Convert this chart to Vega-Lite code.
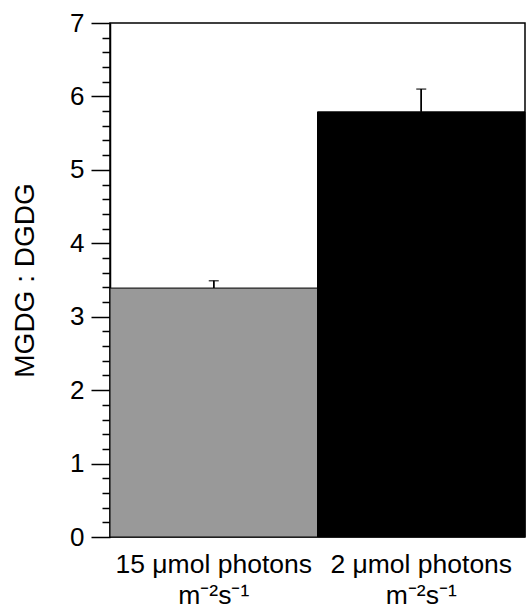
{
  "$schema": "https://vega.github.io/schema/vega-lite/v6.json",
  "autosize": "none",
  "width": 415,
  "height": 514,
  "padding": {"left": 110, "top": 23, "right": 1, "bottom": 74},
  "background": "white",
  "config": {
    "font": "Liberation Sans",
    "view": {"stroke": "black", "strokeWidth": 1.5},
    "axis": {"grid": false, "labelColor": "black", "titleColor": "black", "domainColor": "black", "tickColor": "black", "labelFont": "Liberation Sans", "titleFont": "Liberation Sans"}
  },
  "data": {
    "values": [
      {"condition": "15 μmol photons|m⁻²s⁻¹", "light": "high", "value": 3.39, "upper": 3.49},
      {"condition": "2 μmol photons|m⁻²s⁻¹", "light": "low", "value": 5.79, "upper": 6.1}
    ]
  },
  "encoding": {
    "x": {
      "field": "condition",
      "type": "nominal",
      "sort": null,
      "scale": {"paddingInner": 0, "paddingOuter": 0},
      "axis": {
        "title": null,
        "labelAngle": 0,
        "domain": false,
        "ticks": false,
        "labelFontSize": 26.5,
        "labelLimit": 0,
        "labelPadding": 14,
        "labelLineHeight": 31,
        "labelExpr": "split(datum.label, '|')"
      }
    }
  },
  "layer": [
    {
      "mark": {"type": "rule", "color": "black", "strokeWidth": 1.5},
      "encoding": {
        "y": {
          "field": "value",
          "type": "quantitative",
          "scale": {"domain": [0, 7], "nice": false},
          "axis": {
            "orient": "left",
            "values": [0.2, 0.4, 0.6, 0.8, 1.2, 1.4, 1.6, 1.8, 2.2, 2.4, 2.6, 2.8, 3.2, 3.4, 3.6, 3.8, 4.2, 4.4, 4.6, 4.8, 5.2, 5.4, 5.6, 5.8, 6.2, 6.4, 6.6, 6.8],
            "labels": false,
            "domain": false,
            "ticks": true,
            "tickSize": 8,
            "tickWidth": 1.5,
            "title": null
          }
        },
        "y2": {"field": "upper"}
      }
    },
    {
      "mark": {"type": "bar", "stroke": "black", "strokeWidth": 1},
      "encoding": {
        "y": {
          "field": "value",
          "type": "quantitative",
          "axis": {
            "orient": "left",
            "values": [0, 1, 2, 3, 4, 5, 6, 7],
            "ticks": true,
            "tickSize": 19,
            "tickWidth": 1.5,
            "domainWidth": 1.5,
            "labelFontSize": 26,
            "labelPadding": 7,
            "title": "MGDG : DGDG",
            "titleFontSize": 28,
            "titleFontWeight": "normal",
            "titlePadding": 30
          }
        },
        "color": {
          "field": "light",
          "type": "nominal",
          "scale": {"domain": ["high", "low"], "range": ["#999999", "#000000"]},
          "legend": null
        }
      }
    },
    {
      "mark": {"type": "rule", "color": "black", "strokeWidth": 1.5},
      "encoding": {
        "y": {"field": "value", "type": "quantitative", "axis": null},
        "y2": {"field": "upper"}
      }
    },
    {
      "mark": {"type": "tick", "color": "black", "thickness": 1.5, "size": 10},
      "encoding": {
        "y": {"field": "upper", "type": "quantitative", "axis": null}
      }
    }
  ],
  "resolve": {"axis": {"y": "independent"}}
}
